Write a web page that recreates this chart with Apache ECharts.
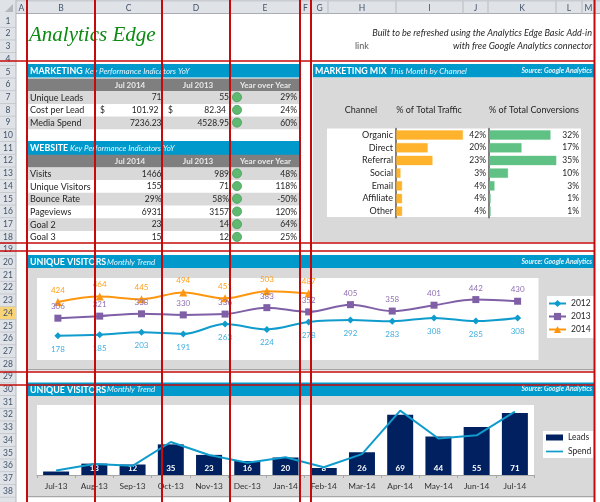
<!DOCTYPE html>
<html><head><meta charset="utf-8">
<style>html,body{margin:0;padding:0;background:#fff}#c{width:600px;height:502px}</style>
<script src="https://cdn.jsdelivr.net/npm/echarts@6/dist/echarts.min.js"></script>
</head><body><div id="c"></div>
<script>
const FONT='Lato, "Open Sans", sans-serif';
// ---- data ----
const columnNames=['A','B','C','D','E','F','G','H','I','J','K','L','M'];
const columnEdges=[16,27,95,162,230,300,311,328,396,463,488,556,582,595];
const marketingRows=['Unique Leads','Cost per Lead','Media Spend'];
const marketing2014=['71','101.92','7236.23'];
const marketing2013=['55','82.34','4528.95'];
const marketingYoY=['29%','24%','60%'];
const websiteRows=['Visits','Unique Visitors','Bounce Rate','Pageviews','Goal 2','Goal 3'];
const website2014=['1466','155','29%','6931','23','15'];
const website2013=['989','71','58%','3157','14','12'];
const websiteYoY=['48%','118%','-50%','120%','64%','25%'];
const channels=['Organic','Direct','Referral','Social','Email','Affiliate','Other'];
const trafficShare=[42,20,23,3,4,4,4];
const conversionShare=[32,17,35,10,3,1,1];
const monthsTrend=['Jan','Feb','Mar','Apr','May','Jun','Jul','Aug','Sep','Oct','Nov','Dec'];
const visitors2012=[178,185,203,191,263,224,278,292,283,308,285,308];
const visitors2013=[306,321,338,330,336,383,352,405,358,401,442,430];
const visitors2014=[424,464,445,494,451,503,487];
const monthsSpend=['Jul-13','Aug-13','Sep-13','Oct-13','Nov-13','Dec-13','Jan-14','Feb-14','Mar-14','Apr-14','May-14','Jun-14','Jul-14'];
const leads=[4,13,12,35,23,16,20,8,26,69,44,55,71];
const spend=[507,1248,1050,3771,2282,1399,2027,887,2386,7360,4177,4529,7236];

// ---- palette ----
const BLUE='#0099cc',PANEL='#d9d9d9',HEAD='#7f7f7f',RED='#c40a0a',INK='#262626';
const C12='#0f9ccd',C13='#7f5fa6',C14='#ff9610',NAVY='#00205f',LBL='#41b0e0';

// ---- sheet scaffolding ----
const g=[];
const rowTop=n=>14.7+12.7*(n-1), rowMid=n=>21+12.7*(n-1);
function rect(x,y,w,h,fill,z,extra){g.push({type:'rect',z:z==null?-10:z,silent:true,shape:{x,y,width:w,height:h},style:Object.assign({fill},extra||{})});}
function text(x,y,s,o){o=o||{};g.push({type:'text',z:o.z==null?-5:o.z,silent:true,x,y,style:{text:s,fill:o.color||INK,
  font:(o.style||'normal')+' '+(o.weight||'normal')+' '+(o.size||9)+'px '+(o.family||FONT),
  align:o.align||'left',verticalAlign:'middle',textAlign:o.align||'left',textVerticalAlign:'middle'}});}

// headers
rect(0,0,600,14,'#dfe3e8');rect(0,0,600,1.5,'#c9ccd1');
rect(0,0,16,502,'#dfe3e8');
rect(16,13,584,1,'#a9adb3');rect(15.5,0,1,502,'#b4b8be');
columnNames.forEach((c,i)=>{
  text((columnEdges[i]+columnEdges[i+1])/2,8,c,{align:'center',size:8.5,color:'#44546a'});
  rect(columnEdges[i+1]-.5,1,1,13,'#b8bcc2');
});
for(let n=1;n<=38;n++){
  if(n===24)rect(0,rowTop(n),16,12.7,'#f8d378');
  text(8,rowMid(n),String(n),{align:'center',size:8.5,color:'#44546a'});
  rect(0,rowTop(n)+12.2,16,.7,'#bcc0c6');
}
g.push({type:'polygon',z:-5,silent:true,shape:{points:[[13,4],[13,12],[5,12]]},style:{fill:'#b4b8be'}});

// title block
text(29,35,'Analytics Edge',{size:21,style:'italic',color:'#0c8a12',family:'"Liberation Serif",serif'});
text(592,33,'Built to be refreshed using the Analytics Edge Basic Add-in',{align:'right',size:9.15,style:'italic'});
text(592,46,'with free Google Analytics connector',{align:'right',size:9.15,style:'italic'});
text(355,46,'link',{size:9,color:'#595959'});

function banner(x,y,w,h,title,sub,subX,source){
  rect(x,y,w,h,BLUE);
  text(x+2,y+h/2+.5,title,{size:8.9,weight:'bold',color:'#fff'});
  text(subX,y+h/2+.5,sub,{size:8,style:'italic',color:'#e8f6fc'});
  if(source)text(x+w-2,y+h/2,'Source: Google Analytics',{align:'right',size:6.8,style:'italic',weight:'bold',color:'#e8f6fc'});
}
function table(firstRow,labels,a,b,c,dollar){
  const y0=rowTop(firstRow)+.3;
  rect(28,y0-12.7,272,12.7,HEAD);
  text(130,y0-6,'Jul 2014',{align:'center',size:8,weight:'bold',color:'#e9e9e9'});
  text(198,y0-6,'Jul 2013',{align:'center',size:8,weight:'bold',color:'#e9e9e9'});
  text(265.5,y0-6,'Year over Year',{align:'center',size:8,weight:'bold',color:'#e9e9e9'});
  labels.forEach((l,i)=>{
    const y=y0+12.7*i,m=y+6.5;
    if(i%2===0)rect(28,y,272,12.7,PANEL);
    text(30,m,l,{size:9});
    const pad=dollar===i?3:0;
    if(dollar===i){text(100,m,'$',{size:8.5});text(168,m,'$',{size:8.5});}
    text(161.5-pad,m,a[i],{align:'right',size:8.5});
    text(229-pad,m,b[i],{align:'right',size:8.5});
    text(297,m,c[i],{align:'right',size:8.5});
    g.push({type:'circle',z:-5,silent:true,shape:{cx:237,cy:m-.5,r:4.6},style:{fill:'#5fb971',stroke:'#3f9a55',lineWidth:.7}});
  });
}
banner(28,64,272,13.5,'MARKETING','Key Performance Indicators YoY',85,false);
table(7,marketingRows,marketing2014,marketing2013,marketingYoY,1);
banner(28,141,272,14,'WEBSITE','Key Performance Indicators YoY',70,false);
table(13,websiteRows,website2014,website2013,websiteYoY,-1);

// marketing mix panel
banner(313,64,281,13.5,'MARKETING MIX','This Month by Channel',390,true);
rect(313,77.5,281,164.5,PANEL);
rect(327,128.5,254,88.5,'#fff',-9);
text(361,110,'Channel',{align:'center',size:9});
text(429,110,'% of Total Traffic',{align:'center',size:9});
text(534,110,'% of Total Conversions',{align:'center',size:9});

// trend panels
banner(28,255,566,13,'UNIQUE VISITORS','Monthly Trend',107,true);
rect(28,268,566,102,PANEL);rect(28,369,566,1.2,'#a6a6a6');
rect(37,278,501.5,82,'#fff',-9);
banner(28,382.5,566,13.5,'UNIQUE VISITORS','Monthly Trend',107,true);
rect(28,396,566,101,PANEL);rect(28,496,566,1.2,'#a6a6a6');
rect(37,405,497,70,'#fff',-9);

// red guides on top of everything
[27,95,162,230,300,311,594.5].forEach(x=>rect(x-1,0,2,502,RED,50));
[61,243,251,372,385].forEach(y=>rect(0,y-.75,595,1.6,RED,50));

// ---- chart ----
const shareBar=(xi,yi,data,color)=>({type:'bar',xAxisIndex:xi,yAxisIndex:yi,data,barWidth:10,
  itemStyle:{color,borderColor:color+'55',borderWidth:1},silent:true,animation:false});
const trend=(name,data,color,symbol,size,pos)=>({type:'line',name,data,xAxisIndex:2,yAxisIndex:4,smooth:.35,symbol,symbolSize:size,
  lineStyle:{color,width:2},itemStyle:{color},
  label:{show:true,position:pos,distance:pos==='top'?4:6,color:color===C12?LBL:(color===C13?'#8f70b2':'#ff9f1c'),fontFamily:FONT,fontSize:8}});
const shareAxis=(gi,labels,show)=>({type:'category',gridIndex:gi,inverse:true,data:labels,
  axisLine:{show:true,onZero:false,lineStyle:{color:'#7f7f7f',width:2}},axisTick:{show:false},
  axisLabel:{show,interval:0,color:INK,fontFamily:FONT,fontSize:9,margin:3}});
const pctAxis=(gi,labels)=>({type:'category',gridIndex:gi,inverse:true,position:'right',data:labels,
  axisLine:{show:false},axisTick:{show:false},axisLabel:{interval:0,color:INK,fontFamily:FONT,fontSize:8.5,align:'right',margin:0}});
const hidden=(gi,type,max)=>({type,gridIndex:gi,show:false,min:0,max});

const option={
  animation:false,
  textStyle:{fontFamily:FONT},
  grid:[
    {left:396,top:128.7,width:90,height:88.9},
    {left:489,top:128.7,width:90,height:88.9},
    {left:37,top:278,width:501.5,height:82},
    {left:37,top:405,width:497,height:70}
  ],
  xAxis:[
    hidden(0,'value',56.25),
    hidden(1,'value',46.6),
    {type:'category',gridIndex:2,show:false,data:monthsTrend},
    {type:'category',gridIndex:3,data:monthsSpend,
      axisLine:{lineStyle:{color:'#a6a6a6'}},
      axisTick:{show:true,length:3,lineStyle:{color:'#a6a6a6'}},
      axisLabel:{color:'#333',fontFamily:FONT,fontSize:8.3,margin:7,interval:0}}
  ],
  yAxis:[
    shareAxis(0,channels,true),
    pctAxis(0,trafficShare.map(v=>v+'%')),
    shareAxis(1,channels,false),
    pctAxis(1,conversionShare.map(v=>v+'%')),
    {type:'value',gridIndex:2,show:false,min:0,max:600},
    {type:'value',gridIndex:3,show:false,min:0,max:80},
    {type:'value',gridIndex:3,show:false,min:0,max:8000}
  ],
  legend:[
    {data:['2012','2013','2014'],orient:'vertical',left:547,top:296,backgroundColor:'#fff',padding:[3,3,4,1],itemGap:4,itemWidth:17,itemHeight:9,
      textStyle:{color:INK,fontFamily:FONT,fontSize:8.5},selectedMode:false},
    {data:[{name:'Leads',icon:'rect'},{name:'Spend',icon:'path://M0 0H20V2H0Z'}],orient:'vertical',left:543,top:431,backgroundColor:'#fff',padding:[2,2,2,3],itemGap:5,itemWidth:17,itemHeight:6,
      textStyle:{color:INK,fontFamily:FONT,fontSize:8.5},selectedMode:false}
  ],
  series:[
    shareBar(0,0,trafficShare,'#ffb32c'),
    shareBar(1,2,conversionShare,'#5fc184'),
    trend('2012',visitors2012,C12,'diamond',7,'bottom'),
    trend('2013',visitors2013,C13,'rect',7,'top'),
    trend('2014',visitors2014,C14,'triangle',8,'top'),
    {type:'bar',name:'Leads',xAxisIndex:3,yAxisIndex:5,data:leads,barWidth:26,itemStyle:{color:NAVY},
      label:{show:true,position:'insideBottom',distance:3,color:'#fff',fontFamily:FONT,fontSize:8,fontWeight:'bold'}},
    {type:'line',name:'Spend',xAxisIndex:3,yAxisIndex:6,data:spend,symbol:'none',z:5,clip:false,
      lineStyle:{color:C12,width:2},itemStyle:{color:C12},
      label:{show:true,position:'top',distance:5,color:LBL,fontFamily:FONT,fontSize:8,formatter:p=>'$'+p.value.toLocaleString('en-US')}}
  ],
  graphic:{elements:g}
};
const chart=echarts.init(document.getElementById('c'),null,{renderer:'canvas'});
chart.setOption(option);
</script></body></html>
